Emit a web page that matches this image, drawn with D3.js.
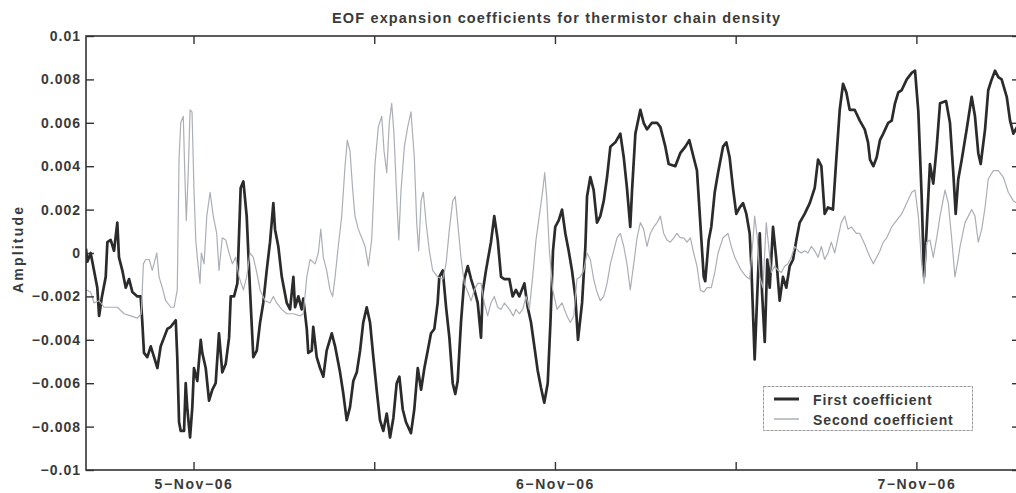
<!DOCTYPE html>
<html>
<head>
<meta charset="utf-8">
<script src="https://cdn.jsdelivr.net/npm/d3@7"></script>
<style>
  html, body { margin: 0; padding: 0; background: #fff; }
  svg { display: block; font-family: "Liberation Sans", Arial, Helvetica, sans-serif; font-weight: bold; }
</style>
</head>
<body>
<svg id="chart" width="1016" height="493"></svg>
<script>
// Time is given in hours from 5-Nov-2006 00:00 UTC; values are EOF amplitudes.
const firstCoefficient = [
  [-7.14,0.0002],[-7.05,-0.0004],[-6.83,0],[-6.61,-0.0008],[-6.39,-0.0016],[-6.27,-0.0029],[-6.08,-0.0020],[-5.83,-0.0011],
  [-5.72,0.0005],[-5.50,0.0006],[-5.28,0.0001],[-5.06,0.0014],[-4.95,-0.0002],[-4.73,-0.0008],[-4.50,-0.0016],[-4.28,-0.0012],
  [-4.06,-0.0018],[-3.73,-0.0020],[-3.51,-0.0020],[-3.40,-0.0032],[-3.29,-0.0046],[-3.07,-0.0048],[-2.84,-0.0043],[-2.62,-0.0048],
  [-2.40,-0.0053],[-2.18,-0.0043],[-1.96,-0.0039],[-1.74,-0.0035],[-1.51,-0.0034],[-1.18,-0.0031],[-1.08,-0.0048],[-0.96,-0.0078],
  [-0.85,-0.0082],[-0.63,-0.0082],[-0.52,-0.0060],[-0.41,-0.0072],[-0.23,-0.0085],[-0.08,-0.0071],[0.03,-0.0053],[0.25,-0.0059],
  [0.48,-0.0040],[0.58,-0.0046],[0.81,-0.0053],[1.03,-0.0068],[1.25,-0.0063],[1.47,-0.0060],[1.69,-0.0037],[1.91,-0.0055],
  [2.14,-0.0051],[2.36,-0.0039],[2.47,-0.0020],[2.69,-0.0020],[2.91,-0.0014],[3.13,0.0030],[3.31,0.0033],[3.53,0.0017],
  [3.75,-0.0017],[3.97,-0.0048],[4.20,-0.0045],[4.42,-0.0032],[4.63,-0.0023],[4.86,-0.0008],[5.08,0.0005],[5.30,0.0023],
  [5.41,0.0011],[5.63,0.0003],[5.86,-0.0011],[6.19,-0.0023],[6.41,-0.0026],[6.63,-0.0011],[6.74,-0.0025],[6.96,-0.0020],
  [7.18,-0.0026],[7.29,-0.0021],[7.52,-0.0035],[7.62,-0.0046],[7.85,-0.0045],[7.95,-0.0034],[8.18,-0.0048],[8.40,-0.0053],
  [8.62,-0.0057],[8.84,-0.0045],[9.18,-0.0037],[9.40,-0.0043],[9.73,-0.0055],[9.95,-0.0065],[10.17,-0.0077],[10.39,-0.0071],
  [10.61,-0.0059],[10.84,-0.0055],[11.06,-0.0045],[11.27,-0.0032],[11.50,-0.0025],[11.72,-0.0032],[11.94,-0.0048],[12.16,-0.0063],
  [12.38,-0.0077],[12.60,-0.0082],[12.83,-0.0074],[13.05,-0.0085],[13.27,-0.0076],[13.49,-0.0060],[13.67,-0.0057],[13.89,-0.0072],
  [14.11,-0.0078],[14.44,-0.0083],[14.66,-0.0072],[14.89,-0.0053],[15.11,-0.0063],[15.33,-0.0053],[15.55,-0.0045],[15.77,-0.0037],
  [15.99,-0.0035],[16.21,-0.0023],[16.32,-0.0011],[16.55,-0.0008],[16.77,-0.0025],[16.99,-0.0039],[17.21,-0.0060],[17.38,-0.0065],
  [17.54,-0.0059],[17.76,-0.0032],[17.98,-0.0012],[18.21,-0.0006],[18.43,-0.0012],[18.65,-0.0017],[18.87,-0.0023],[19.09,-0.0039],
  [19.20,-0.0018],[19.42,-0.0008],[19.75,0.0005],[19.97,0.0017],[20.20,0.0006],[20.42,-0.0011],[20.64,-0.0012],[20.97,-0.0012],
  [21.19,-0.0020],[21.41,-0.0017],[21.63,-0.0020],[21.97,-0.0014],[22.19,-0.0025],[22.41,-0.0032],[22.63,-0.0043],[22.85,-0.0054],
  [23.07,-0.0062],[23.29,-0.0069],[23.52,-0.0060],[23.70,-0.0032],[23.87,0.0001],[24.02,0.0012],[24.25,0.0015],[24.47,0.0020],
  [24.69,0.0009],[24.91,0.0001],[25.13,-0.0008],[25.35,-0.0020],[25.53,-0.0040],[25.80,-0.0023],[26.02,0.0003],[26.13,0.0026],
  [26.35,0.0035],[26.57,0.0029],[26.79,0.0014],[27.01,0.0017],[27.24,0.0024],[27.46,0.0035],[27.68,0.0049],[28.01,0.0051],
  [28.34,0.0055],[28.57,0.0044],[28.78,0.0030],[29.00,0.0012],[29.12,0.0029],[29.34,0.0055],[29.67,0.0066],[29.89,0.0060],
  [30.11,0.0057],[30.44,0.0060],[30.78,0.0060],[31.00,0.0058],[31.33,0.0049],[31.55,0.0041],[31.99,0.0040],[32.32,0.0046],
  [32.66,0.0049],[32.92,0.0052],[33.21,0.0044],[33.43,0.0038],[33.65,0.0014],[33.88,-0.0011],[33.98,-0.0013],[34.21,0.0006],
  [34.38,0.0012],[34.61,0.0028],[34.83,0.0037],[35.16,0.0049],[35.38,0.0051],[35.60,0.0044],[35.82,0.0030],[36.04,0.0018],
  [36.27,0.0021],[36.49,0.0023],[36.71,0.0018],[36.93,0.0009],[37.04,-0.0006],[37.26,-0.0049],[37.44,-0.0018],[37.60,0.0009],
  [37.75,-0.0018],[37.93,-0.0041],[38.10,-0.0003],[38.26,-0.0016],[38.48,0.0012],[38.70,-0.0003],[38.92,-0.0022],[39.14,-0.0011],
  [39.36,-0.0016],[39.59,-0.0006],[39.81,-0.0003],[40.03,0.0006],[40.25,0.0014],[40.58,0.0018],[40.92,0.0023],[41.25,0.0030],
  [41.47,0.0043],[41.69,0.0040],[41.91,0.0018],[42.13,0.0021],[42.46,0.0020],[42.68,0.0043],[42.91,0.0066],[43.13,0.0078],
  [43.35,0.0074],[43.57,0.0066],[43.90,0.0066],[44.24,0.0061],[44.57,0.0057],[44.79,0.0051],[44.92,0.0043],[45.14,0.0040],
  [45.36,0.0044],[45.58,0.0052],[45.80,0.0055],[46.13,0.0060],[46.36,0.0061],[46.58,0.0069],[46.80,0.0074],[47.02,0.0075],
  [47.36,0.0080],[47.69,0.0083],[47.91,0.0084],[48.13,0.0065],[48.35,0.0026],[48.51,-0.0011],[48.68,0.0011],[48.90,0.0041],
  [49.12,0.0032],[49.35,0.0049],[49.57,0.0069],[49.97,0.0070],[50.23,0.0060],[50.45,0.0037],[50.61,0.0018],[50.78,0.0034],
  [51.01,0.0043],[51.34,0.0057],[51.67,0.0072],[51.89,0.0063],[52.11,0.0046],[52.27,0.0041],[52.56,0.0057],[52.77,0.0075],
  [53.00,0.0080],[53.22,0.0084],[53.44,0.0081],[53.66,0.0080],[54.00,0.0072],[54.22,0.0061],[54.44,0.0055],[54.68,0.0058],
  [54.90,0.0057]
];

const secondCoefficient = [
  [-7.14,-0.0017],[-6.83,-0.0018],[-6.61,-0.0023],[-6.27,-0.0022],[-5.94,-0.0025],[-5.50,-0.0025],[-5.06,-0.0025],[-4.61,-0.0028],
  [-4.17,-0.0029],[-3.73,-0.0030],[-3.47,-0.0028],[-3.33,-0.0005],[-3.17,-0.0003],[-2.95,-0.0003],[-2.74,-0.0008],[-2.44,0.0000],
  [-2.29,-0.0011],[-2.07,-0.0016],[-1.85,-0.0022],[-1.51,-0.0025],[-1.29,-0.0025],[-1.08,-0.0017],[-0.96,0.0044],[-0.85,0.0060],
  [-0.68,0.0063],[-0.58,0.0037],[-0.48,0.0015],[-0.35,0.0037],[-0.23,0.0066],[-0.10,0.0065],[0.03,0.0029],[0.15,0.0006],
  [0.25,-0.0002],[0.43,-0.0014],[0.52,0.0000],[0.70,-0.0005],[0.88,0.0017],[1.10,0.0028],[1.31,0.0017],[1.54,0.0009],
  [1.69,-0.0008],[1.91,0.0007],[2.14,0.0006],[2.36,0.0000],[2.58,-0.0005],[2.80,-0.0002],[3.02,-0.0011],[3.31,-0.0017],
  [3.53,-0.0011],[3.75,0.0000],[3.97,-0.0002],[4.20,-0.0009],[4.42,-0.0017],[4.75,-0.0022],[5.08,-0.0023],[5.30,-0.0020],
  [5.52,-0.0023],[5.86,-0.0026],[6.19,-0.0028],[6.63,-0.0028],[7.07,-0.0029],[7.29,-0.0028],[7.52,-0.0011],[7.74,-0.0003],
  [8.07,-0.0005],[8.29,0.0000],[8.45,0.0011],[8.62,-0.0002],[8.84,-0.0008],[9.06,-0.0017],[9.24,-0.0020],[9.40,-0.0011],
  [9.61,0.0003],[9.84,0.0017],[10.06,0.0040],[10.21,0.0052],[10.39,0.0047],[10.57,0.0029],[10.72,0.0017],[10.94,0.0011],
  [11.17,0.0007],[11.39,0.0003],[11.61,-0.0006],[11.83,0.0006],[12.05,0.0041],[12.27,0.0058],[12.50,0.0063],[12.65,0.0047],
  [12.83,0.0037],[13.00,0.0060],[13.16,0.0069],[13.31,0.0055],[13.49,0.0026],[13.63,0.0006],[13.78,0.0029],[14.00,0.0049],
  [14.22,0.0058],[14.44,0.0065],[14.66,0.0044],[14.82,0.0014],[14.95,0.0001],[15.11,0.0024],[15.26,0.0028],[15.44,0.0014],
  [15.66,0.0001],[15.88,-0.0008],[16.21,-0.0011],[16.55,-0.0012],[16.77,-0.0005],[16.99,0.0011],[17.21,0.0024],[17.38,0.0026],
  [17.54,0.0014],[17.76,-0.0002],[17.98,-0.0014],[18.21,-0.0018],[18.43,-0.0022],[18.65,-0.0017],[18.87,-0.0014],[19.09,-0.0014],
  [19.31,-0.0023],[19.53,-0.0029],[19.75,-0.0023],[19.97,-0.0020],[20.20,-0.0025],[20.42,-0.0026],[20.64,-0.0023],[20.97,-0.0026],
  [21.23,-0.0029],[21.41,-0.0026],[21.63,-0.0028],[21.86,-0.0026],[22.08,-0.0020],[22.30,-0.0026],[22.52,-0.0011],[22.74,0.0006],
  [22.96,0.0017],[23.19,0.0029],[23.32,0.0037],[23.45,0.0026],[23.63,0.0001],[23.85,-0.0017],[24.14,-0.0026],[24.47,-0.0023],
  [24.80,-0.0029],[25.02,-0.0032],[25.25,-0.0029],[25.46,-0.0012],[25.68,-0.0011],[25.91,-0.0008],[26.13,0.0000],[26.35,-0.0003],
  [26.57,-0.0012],[26.79,-0.0018],[27.01,-0.0022],[27.24,-0.0020],[27.46,-0.0014],[27.68,-0.0005],[27.90,0.0001],[28.12,0.0007],
  [28.34,0.0009],[28.57,0.0003],[28.78,-0.0005],[29.00,-0.0017],[29.23,-0.0005],[29.45,0.0007],[29.67,0.0014],[29.89,0.0011],
  [30.11,0.0003],[30.33,0.0009],[30.56,0.0012],[30.78,0.0014],[31.00,0.0017],[31.22,0.0009],[31.44,0.0006],[31.66,0.0005],
  [31.89,0.0007],[32.10,0.0009],[32.32,0.0007],[32.55,0.0007],[32.77,0.0005],[32.99,0.0007],[33.21,0.0000],[33.43,-0.0006],
  [33.65,-0.0017],[33.88,-0.0018],[34.10,-0.0016],[34.38,-0.0016],[34.61,-0.0009],[34.83,0.0000],[35.16,0.0007],[35.49,0.0009],
  [35.71,0.0003],[35.94,-0.0002],[36.15,-0.0005],[36.37,-0.0008],[36.71,-0.0011],[36.93,-0.0012],[37.15,0.0006],[37.26,0.0017],
  [37.44,0.0007],[37.60,-0.0011],[37.81,-0.0016],[38.03,0.0014],[38.19,0.0003],[38.37,-0.0009],[38.59,-0.0006],[38.81,-0.0008],
  [39.03,-0.0009],[39.26,-0.0006],[39.47,-0.0005],[39.69,-0.0002],[39.92,0.0003],[40.14,0.0001],[40.36,0.0000],[40.58,0.0001],
  [40.80,0.0000],[41.02,0.0003],[41.25,0.0001],[41.47,-0.0002],[41.69,0.0003],[41.91,-0.0003],[42.13,0.0000],[42.35,0.0005],
  [42.58,0.0000],[42.79,0.0007],[43.01,0.0014],[43.24,0.0017],[43.46,0.0011],[43.68,0.0012],[44.01,0.0009],[44.24,0.0009],
  [44.57,0.0004],[44.92,-0.0002],[45.14,-0.0005],[45.36,-0.0002],[45.58,0.0001],[45.80,0.0005],[46.03,0.0007],[46.36,0.0012],
  [46.69,0.0015],[47.02,0.0018],[47.36,0.0023],[47.69,0.0028],[47.91,0.0029],[48.13,0.0017],[48.35,-0.0005],[48.51,-0.0014],
  [48.68,0.0005],[48.90,0.0006],[49.12,-0.0002],[49.35,0.0007],[49.57,0.0017],[49.90,0.0029],[50.12,0.0023],[50.34,0.0007],
  [50.56,-0.0011],[50.72,-0.0005],[50.90,0.0003],[51.23,0.0014],[51.45,0.0017],[51.67,0.0020],[51.89,0.0017],[52.11,0.0005],
  [52.34,0.0011],[52.56,0.0021],[52.77,0.0034],[53.11,0.0038],[53.44,0.0038],[53.77,0.0035],[54.10,0.0028],[54.44,0.0024],
  [54.68,0.0023],[54.90,0.0022]
];

const yTickValues = [-0.01, -0.008, -0.006, -0.004, -0.002, 0, 0.002, 0.004, 0.006, 0.008, 0.01];
const yTickLabels = ["\u22120.01", "\u22120.008", "\u22120.006", "\u22120.004", "\u22120.002", "0",
                     "0.002", "0.004", "0.006", "0.008", "0.01"];
const xTickHours = [0, 12, 24, 36, 48];
const xTickLabels = ["5\u2212Nov\u221206", "", "6\u2212Nov\u221206", "", "7\u2212Nov\u221206"];
const xDomainHours = [-7.14, 54.88];
const seriesNames = ["First coefficient", "Second coefficient"];
const chartTitle = "EOF expansion coefficients for thermistor chain density";
const yAxisTitle = "Amplitude";

const textColor = "#3a3a3a";
const axisColor = "#333";
const seriesColors = ["#2b2b2b", "#abafb6"];
const seriesWidths = [2.7, 1.2];

const origin = Date.UTC(2006, 10, 5);
const toDate = h => new Date(origin + h * 3600000);

const plot = { left: 86, right: 1020, top: 36, bottom: 470 };

const x = d3.scaleUtc().domain(xDomainHours.map(toDate)).range([plot.left, plot.right]);
const y = d3.scaleLinear().domain([-0.01, 0.01]).range([plot.bottom, plot.top]);

const svg = d3.select("#chart");

svg.append("defs").append("clipPath").attr("id", "plot-clip")
  .append("rect")
  .attr("x", plot.left).attr("y", plot.top)
  .attr("width", plot.right - plot.left).attr("height", plot.bottom - plot.top);

// Series lines
const line = d3.line().x(d => x(toDate(d[0]))).y(d => y(d[1]));
const lines = svg.append("g").attr("clip-path", "url(#plot-clip)");
[firstCoefficient, secondCoefficient].forEach((data, i) => {
  lines.append("path")
    .datum(data)
    .attr("d", line)
    .attr("fill", "none")
    .attr("stroke", seriesColors[i])
    .attr("stroke-width", seriesWidths[i])
    .attr("stroke-linejoin", "round");
});

// Axes: ticks point inward on all four sides
const tickLen = 8;
function styleAxis(g) {
  g.select(".domain").remove();
  g.selectAll(".tick line").attr("stroke", axisColor).attr("stroke-width", 1.4);
  g.selectAll(".tick text")
    .attr("fill", textColor)
    .attr("font-family", "'Liberation Sans', Arial, sans-serif")
    .attr("font-weight", "bold")
    .attr("font-size", 14)
    .style("letter-spacing", "1px");
}

svg.append("g")
  .attr("transform", `translate(${plot.left},0)`)
  .call(d3.axisLeft(y).tickValues(yTickValues).tickSize(-tickLen).tickPadding(5)
        .tickFormat((d, i) => yTickLabels[i]))
  .call(styleAxis);

svg.append("g")
  .attr("transform", `translate(${plot.right},0)`)
  .call(d3.axisRight(y).tickValues(yTickValues).tickSize(-tickLen).tickFormat(""))
  .call(styleAxis);

svg.append("g")
  .attr("transform", `translate(0,${plot.bottom})`)
  .call(d3.axisBottom(x).tickValues(xTickHours.map(toDate)).tickSize(-tickLen).tickPadding(9)
        .tickFormat((d, i) => xTickLabels[i]))
  .call(styleAxis)
  .call(g => g.selectAll(".tick text").style("letter-spacing", "1.6px"));

svg.append("g")
  .attr("transform", `translate(0,${plot.top})`)
  .call(d3.axisTop(x).tickValues(xTickHours.map(toDate)).tickSize(-tickLen).tickFormat(""))
  .call(styleAxis);

// Frame
svg.append("rect")
  .attr("x", plot.left).attr("y", plot.top)
  .attr("width", plot.right - plot.left).attr("height", plot.bottom - plot.top)
  .attr("fill", "none").attr("stroke", axisColor).attr("stroke-width", 1.6);

// Title
svg.append("text")
  .attr("x", 556).attr("y", 22.5)
  .attr("text-anchor", "middle")
  .attr("font-size", 14.5)
  .attr("fill", textColor)
  .attr("textLength", 448).attr("lengthAdjust", "spacing")
  .text(chartTitle);

// Y axis title
svg.append("text")
  .attr("transform", "translate(23,250) rotate(-90)")
  .attr("text-anchor", "middle")
  .attr("font-size", 14)
  .attr("fill", textColor)
  .attr("textLength", 86).attr("lengthAdjust", "spacing")
  .text(yAxisTitle);

// Legend
const legend = svg.append("g");
legend.append("rect")
  .attr("x", 763.5).attr("y", 386.5).attr("width", 209).attr("height", 44)
  .attr("fill", "#fff").attr("stroke", "#9a9a9a").attr("stroke-width", 1)
  .attr("stroke-dasharray", "3,1");
seriesNames.forEach((name, i) => {
  const yy = 399 + i * 20;
  legend.append("line")
    .attr("x1", 774).attr("x2", 799).attr("y1", yy).attr("y2", yy)
    .attr("stroke", seriesColors[i]).attr("stroke-width", seriesWidths[i] + 0.3);
  legend.append("text")
    .attr("x", 813).attr("y", yy + 5.5)
    .attr("font-size", 14)
    .attr("fill", textColor)
    .style("letter-spacing", "0.9px")
    .text(name);
});
</script>
</body>
</html>
